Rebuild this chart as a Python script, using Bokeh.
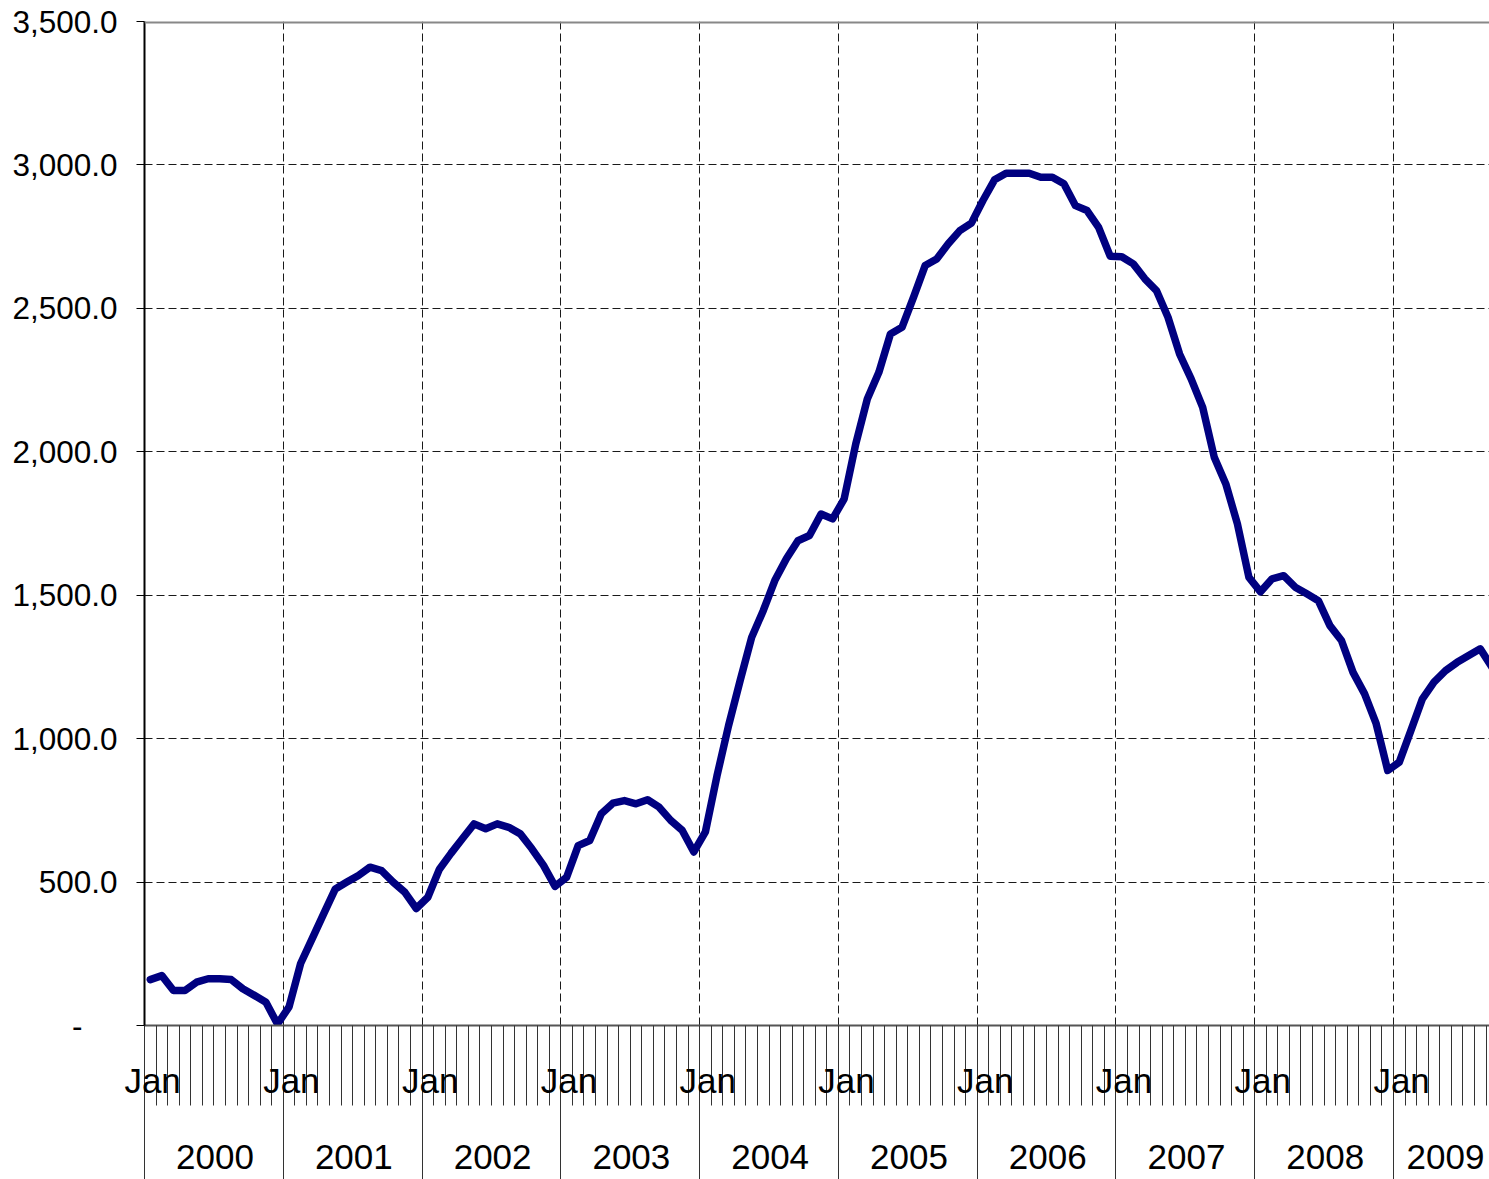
from bokeh.plotting import figure
from bokeh.models import (Range1d, LinearAxis, FixedTicker, Span,
                          CustomJSTickFormatter, NumeralTickFormatter)
from bokeh.embed import file_html
from bokeh.resources import INLINE

# ---- data ----
years = ["2000", "2001", "2002", "2003", "2004", "2005", "2006", "2007", "2008", "2009"]
month_names = ["Jan", "Feb", "Mar", "Apr", "May", "Jun",
               "Jul", "Aug", "Sep", "Oct", "Nov", "Dec"]
values = [
    160, 174, 122, 122, 151, 163, 163, 160, 128, 105, 81, 5,          # 2000
    65, 216, 303, 390, 476, 500, 523, 552, 540, 500, 465, 408,        # 2001
    447, 545, 600, 652, 703, 686, 703, 691, 668, 616, 558, 485,       # 2002
    517, 627, 645, 738, 775, 784, 773, 787, 761, 715, 680, 605,       # 2003
    675, 870, 1045, 1202, 1353, 1446, 1551, 1627, 1690, 1708, 1783, 1766,  # 2004
    1836, 2027, 2184, 2277, 2411, 2434, 2539, 2649, 2672, 2725, 2771, 2797,  # 2005
    2876, 2948, 2971, 2971, 2971, 2957, 2957, 2934, 2858, 2841, 2782, 2682,  # 2006
    2680, 2655, 2603, 2562, 2469, 2341, 2254, 2155, 1981, 1888, 1749, 1562,  # 2007
    1512, 1557, 1568, 1528, 1505, 1481, 1394, 1342, 1231, 1156, 1052, 889,   # 2008
    918, 1028, 1139, 1197, 1237, 1266, 1290, 1313, 1250,                     # 2009
]
y_ticks = [0, 500, 1000, 1500, 2000, 2500, 3000, 3500]

n = len(values)
x = [i + 0.5 for i in range(n)]

p = figure(width=1489, height=1179, output_backend="svg", toolbar_location=None,
           x_range=Range1d(0, 116.3), y_range=Range1d(0, 3500),
           min_border_left=144, min_border_right=0, min_border_top=21,
           min_border_bottom=154)
p.outline_line_color = None
p.background_fill_color = "white"
p.border_fill_color = "white"

# grids
p.ygrid.ticker = FixedTicker(ticks=y_ticks[1:-1])
p.ygrid.grid_line_color = "#1a1a1a"
p.ygrid.grid_line_dash = "8 4"
p.ygrid.grid_line_width = 1
p.xgrid.ticker = FixedTicker(ticks=[12 * k for k in range(1, len(years))])
p.xgrid.grid_line_color = "#1a1a1a"
p.xgrid.grid_line_dash = "8 4"
p.xgrid.grid_line_width = 1

p.add_layout(Span(location=3500, dimension="width", line_color="#888888", line_width=4))

# y axis
ya = p.yaxis[0]
ya.ticker = FixedTicker(ticks=y_ticks)
ya.formatter = NumeralTickFormatter(format="0,0.0")
ya.major_label_overrides = {0: "-\u2007\u2007"}
ya.axis_line_color = "black"
ya.axis_line_width = 2
ya.major_tick_out = 8
ya.major_tick_in = 0
ya.minor_tick_out = 0
ya.minor_tick_in = 0
ya.major_tick_line_color = "black"
ya.major_label_standoff = 19
ya.major_label_text_font = "Liberation Sans"
ya.major_label_text_font_size = "31.5px"
ya.major_label_text_color = "black"

# x axis level 1: months
xa = p.xaxis[0]
xa.ticker = FixedTicker(ticks=[12 * k + 0.7 for k in range(len(years)) if 12 * k < n],
                        minor_ticks=list(range(0, n + 1)))
xa.formatter = CustomJSTickFormatter(args=dict(names=month_names),
                                     code="return names[Math.floor(tick) % 12];")
xa.axis_line_color = "#555555"
xa.axis_line_width = 2
xa.major_tick_out = 0
xa.major_tick_in = 0
xa.minor_tick_out = 80
xa.minor_tick_in = 0
xa.minor_tick_line_color = "#333333"
xa.major_label_standoff = -45
xa.major_label_text_font = "Liberation Sans"
xa.major_label_text_font_size = "35px"
xa.major_label_text_color = "black"

# x axis level 2: years
year_pos = [12 * k + 6.1 for k in range(len(years) - 1)] + [12 * (len(years) - 1) + (n - 12 * (len(years) - 1)) / 2]
xb = LinearAxis(ticker=FixedTicker(ticks=year_pos,
                                   minor_ticks=[12 * k for k in range(len(years))]),
                formatter=CustomJSTickFormatter(args=dict(years=years),
                                                code="return years[Math.floor(tick / 12)];"))
xb.axis_line_color = None
xb.major_tick_out = 0
xb.major_tick_in = 0
xb.minor_tick_out = 90
xb.minor_tick_in = 0
xb.minor_tick_line_color = "#333333"
xb.major_label_standoff = -48
xb.major_label_text_font = "Liberation Sans"
xb.major_label_text_font_size = "35px"
xb.major_label_text_color = "black"
p.add_layout(xb, "below")

p.line(x, values, line_color="#000080", line_width=7.5, line_join="round", line_cap="round")

open("out.html", "w").write(file_html(p, INLINE))
